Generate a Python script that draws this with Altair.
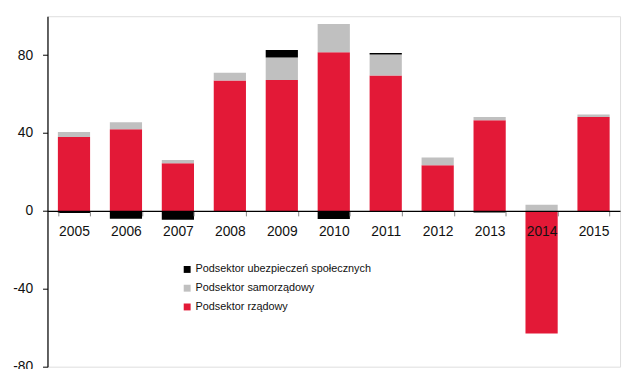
import altair as alt
import pandas as pd

years = ["2005", "2006", "2007", "2008", "2009", "2010", "2011", "2012", "2013", "2014", "2015"]
rzadowy = [38.0, 42.0, 24.5, 67.0, 67.2, 81.5, 69.5, 23.5, 46.6, -63.0, 48.3]
samorzadowy = [2.5, 3.6, 1.7, 4.0, 11.6, 14.5, 10.8, 3.9, 1.7, 3.2, 1.2]
ubezpieczen = [-1.0, -4.0, -4.5, 0.0, 3.9, -4.2, 0.8, 0.0, -0.8, 0.0, 0.0]

series_names = ["Podsektor ubezpieczeń społecznych", "Podsektor samorządowy", "Podsektor rządowy"]
series_colors = ["#000000", "#C0C0C0", "#E31937"]

rows = []
for i, yr in enumerate(years):
    rows.append({"year": yr, "series": series_names[2], "value": rzadowy[i], "ord": 0})
    rows.append({"year": yr, "series": series_names[1], "value": samorzadowy[i], "ord": 1})
    rows.append({"year": yr, "series": series_names[0], "value": ubezpieczen[i], "ord": 2})
df = pd.DataFrame(rows)

FONT = "Liberation Sans"
H = 355

chart = alt.Chart(df).mark_bar().encode(
    x=alt.X(
        "year:N", sort=years, title=None,
        scale=alt.Scale(paddingInner=0.38, paddingOuter=0.2),
        axis=alt.Axis(
            orient="bottom", offset=-(H * 80 / 180), labelAngle=0, tickBand="extent",
            tickSize=5, tickColor="#888888", domainColor="#000000", domainWidth=1.2,
            labelFont=FONT, labelFontSize=14, labelColor="#111111", labelPadding=9,
            zindex=1,
        ),
    ),
    y=alt.Y(
        "value:Q", stack="zero", title=None,
        scale=alt.Scale(domain=[-80, 100], nice=False),
        axis=alt.Axis(
            values=[-80, -40, 0, 40, 80], grid=False, tickSize=5, tickColor="#000000",
            domainColor="#000000", domainWidth=1.2, labelFont=FONT, labelFontSize=14,
            labelColor="#111111", labelPadding=10, zindex=1,
            labelExpr="toString(datum.value)",
        ),
    ),
    color=alt.Color(
        "series:N", scale=alt.Scale(domain=series_names, range=series_colors),
        legend=alt.Legend(
            title=None, orient="none", legendX=136, legendY=251,
            labelFont=FONT, labelFontSize=11, labelColor="#111111", labelLimit=0,
            symbolType="square", symbolSize=49,
            symbolStrokeWidth=0, rowPadding=7, labelOffset=3, padding=0,
        ),
    ),
    order=alt.Order("ord:Q"),
).properties(
    width=580, height=H,
    padding={"left": 40, "top": 6, "right": 3, "bottom": 0},
    autosize="none",
).configure_view(stroke=None).configure(background="white")

chart.save("out.html", embed_options={"renderer": "svg", "actions": False})
